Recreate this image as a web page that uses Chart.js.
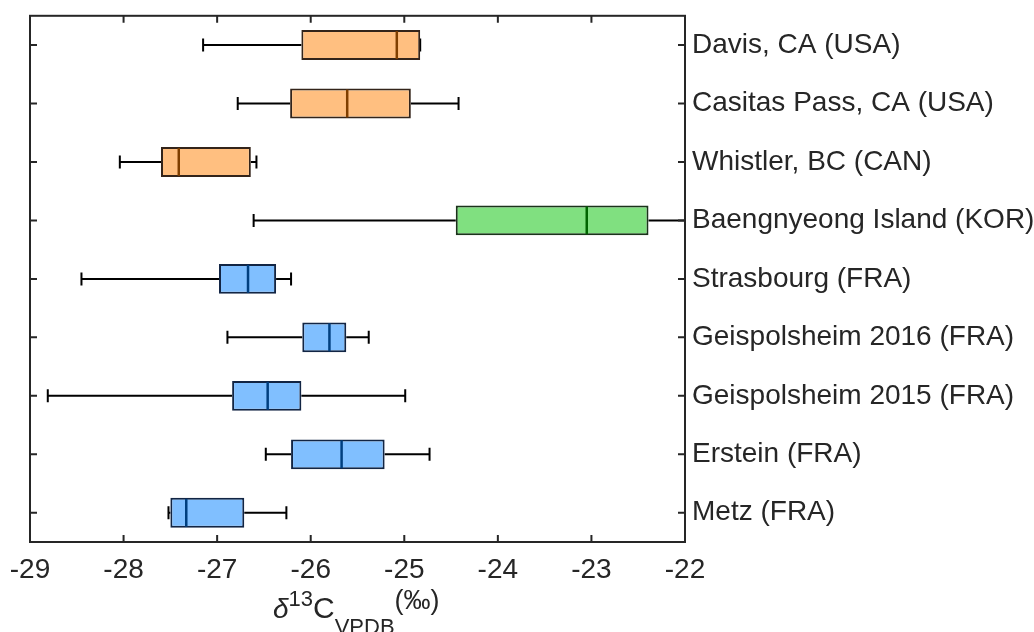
<!DOCTYPE html>
<html>
<head>
<meta charset="utf-8">
<script src="https://cdn.jsdelivr.net/npm/chart.js@4/dist/chart.umd.min.js"></script>
<style>
  html, body { margin: 0; padding: 0; background: #ffffff; }
  #wrap { width: 1034px; height: 632px; }
</style>
</head>
<body>
<div id="wrap"><canvas id="c" width="1034" height="632"></canvas></div>
<script>
// Sampling sites, top to bottom
const categories = [
  'Davis, CA (USA)',
  'Casitas Pass, CA (USA)',
  'Whistler, BC (CAN)',
  'Baengnyeong Island (KOR)',
  'Strasbourg (FRA)',
  'Geispolsheim 2016 (FRA)',
  'Geispolsheim 2015 (FRA)',
  'Erstein (FRA)',
  'Metz (FRA)'
];
// Box-plot statistics of δ13C (‰ VPDB) for each site
const whiskerLow  = [-27.15, -26.78, -28.04, -26.61, -28.45, -26.89, -28.81, -26.48, -27.52];
const q1          = [-26.10, -26.22, -27.60, -24.45, -26.98, -26.09, -26.84, -26.21, -27.50];
const median      = [-25.08, -25.61, -27.41, -23.05, -26.67, -25.80, -26.46, -25.67, -27.33];
const q3          = [-24.83, -24.93, -26.64, -22.39, -26.37, -25.62, -26.10, -25.21, -26.71];
const whiskerHigh = [-24.83, -24.42, -26.58, -22.00, -26.21, -25.38, -24.99, -24.73, -26.26];
// Region group of each site
const region = ['NA', 'NA', 'NA', 'KOR', 'FRA', 'FRA', 'FRA', 'FRA', 'FRA'];
// Axis range and ticks
const xMin = -29, xMax = -22;
const xTicks = [-29, -28, -27, -26, -25, -24, -23, -22];

const palette = {
  NA:  { fill: '#FFBF80', edge: '#33241a', med: '#7f3f00' },
  KOR: { fill: '#80E080', edge: '#1a331a', med: '#006400' },
  FRA: { fill: '#80BFFF', edge: '#122544', med: '#003f7f' }
};

const FONT = '"Liberation Sans", Arial, Helvetica, sans-serif';
const AXIS_COLOR = '#262626';

// Whiskers (drawn under the boxes) and medians (drawn over them)
const boxPlotPlugin = {
  id: 'boxPlotParts',
  beforeDatasetsDraw(chart) {
    const ctx = chart.ctx, xs = chart.scales.x, ys = chart.scales.y;
    ctx.save();
    ctx.strokeStyle = '#000';
    ctx.lineWidth = 2;
    categories.forEach((_, i) => {
      const y = ys.getPixelForValue(i);
      const lo = xs.getPixelForValue(whiskerLow[i]);
      const hi = xs.getPixelForValue(whiskerHigh[i]);
      const a = xs.getPixelForValue(q1[i]);
      const b = xs.getPixelForValue(q3[i]);
      ctx.beginPath();
      ctx.moveTo(lo, y); ctx.lineTo(a, y);
      ctx.moveTo(b, y); ctx.lineTo(hi, y);
      ctx.moveTo(lo, y - 6.5); ctx.lineTo(lo, y + 6.5);
      ctx.moveTo(hi, y - 6.5); ctx.lineTo(hi, y + 6.5);
      ctx.stroke();
    });
    ctx.restore();
  },
  afterDatasetsDraw(chart) {
    const ctx = chart.ctx, xs = chart.scales.x;
    const meta = chart.getDatasetMeta(0);
    ctx.save();
    ctx.lineWidth = 2.5;
    categories.forEach((_, i) => {
      const bar = meta.data[i];
      const h = bar.height;
      const x = xs.getPixelForValue(median[i]);
      ctx.strokeStyle = palette[region[i]].med;
      ctx.beginPath();
      ctx.moveTo(x, bar.y - h / 2 + 1);
      ctx.lineTo(x, bar.y + h / 2 - 1);
      ctx.stroke();
    });
    ctx.restore();
  }
};

// Box frame with inward ticks on all four sides, plus the x-axis title
const framePlugin = {
  id: 'frame',
  afterDraw(chart) {
    const ctx = chart.ctx, a = chart.chartArea;
    const xs = chart.scales.x, ys = chart.scales.y;
    ctx.save();
    ctx.strokeStyle = AXIS_COLOR;
    ctx.lineWidth = 2;
    ctx.strokeRect(a.left, a.top, a.right - a.left, a.bottom - a.top);
    const tl = 7;
    ctx.beginPath();
    xTicks.forEach(v => {
      const x = xs.getPixelForValue(v);
      ctx.moveTo(x, a.bottom); ctx.lineTo(x, a.bottom - tl);
      ctx.moveTo(x, a.top); ctx.lineTo(x, a.top + tl);
    });
    categories.forEach((_, i) => {
      const y = ys.getPixelForValue(i);
      ctx.moveTo(a.left, y); ctx.lineTo(a.left + tl, y);
      ctx.moveTo(a.right, y); ctx.lineTo(a.right - tl, y);
    });
    ctx.stroke();

    // δ13C_VPDB (‰)
    ctx.fillStyle = AXIS_COLOR;
    ctx.textBaseline = 'alphabetic';
    ctx.textAlign = 'left';
    const base = 618;
    const parts = [
      { t: 'δ',    f: 'italic 28px ' + FONT, dy: 0 },
      { t: '13',   f: '22px ' + FONT, dy: -12 },
      { t: 'C',    f: '30px ' + FONT, dy: 0 },
      { t: 'VPDB', f: '22px ' + FONT, dy: 16 },
      { t: '(‰)',  f: '27px ' + FONT, dy: -9 }
    ];
    let x = 273;
    parts.forEach(p => {
      ctx.font = p.f;
      ctx.fillText(p.t, x, base + p.dy);
      x += ctx.measureText(p.t).width;
    });
    ctx.restore();
  }
};

new Chart(document.getElementById('c'), {
  type: 'bar',
  data: {
    labels: categories,
    datasets: [{
      data: categories.map((_, i) => [q1[i], q3[i]]),
      backgroundColor: region.map(r => palette[r].fill),
      borderColor: region.map(r => palette[r].edge),
      borderWidth: 2,
      borderSkipped: false,
      barPercentage: 0.51,
      categoryPercentage: 1.0
    }]
  },
  options: {
    indexAxis: 'y',
    responsive: false,
    animation: false,
    devicePixelRatio: 1,
    layout: { padding: { left: 30, top: 3, right: 0, bottom: 0 } },
    plugins: { legend: { display: false }, tooltip: { enabled: false } },
    scales: {
      x: {
        type: 'linear',
        position: 'bottom',
        min: xMin,
        max: xMax,
        afterBuildTicks(scale) { scale.ticks = xTicks.map(v => ({ value: v })); },
        ticks: {
          font: { family: FONT, size: 28 },
          color: AXIS_COLOR,
          padding: 3,
          maxRotation: 0,
          autoSkip: false,
          callback: v => String(v)
        },
        grid: { display: false },
        border: { display: false },
        afterFit(scale) { scale.height = 90; }
      },
      y: {
        type: 'category',
        position: 'right',
        offset: true,
        ticks: {
          font: { family: FONT, size: 28 },
          color: AXIS_COLOR,
          padding: -1,
          autoSkip: false
        },
        grid: { display: false },
        border: { display: false },
        afterFit(scale) { scale.width = 349; }
      }
    }
  },
  plugins: [boxPlotPlugin, framePlugin]
});
</script>
</body>
</html>
